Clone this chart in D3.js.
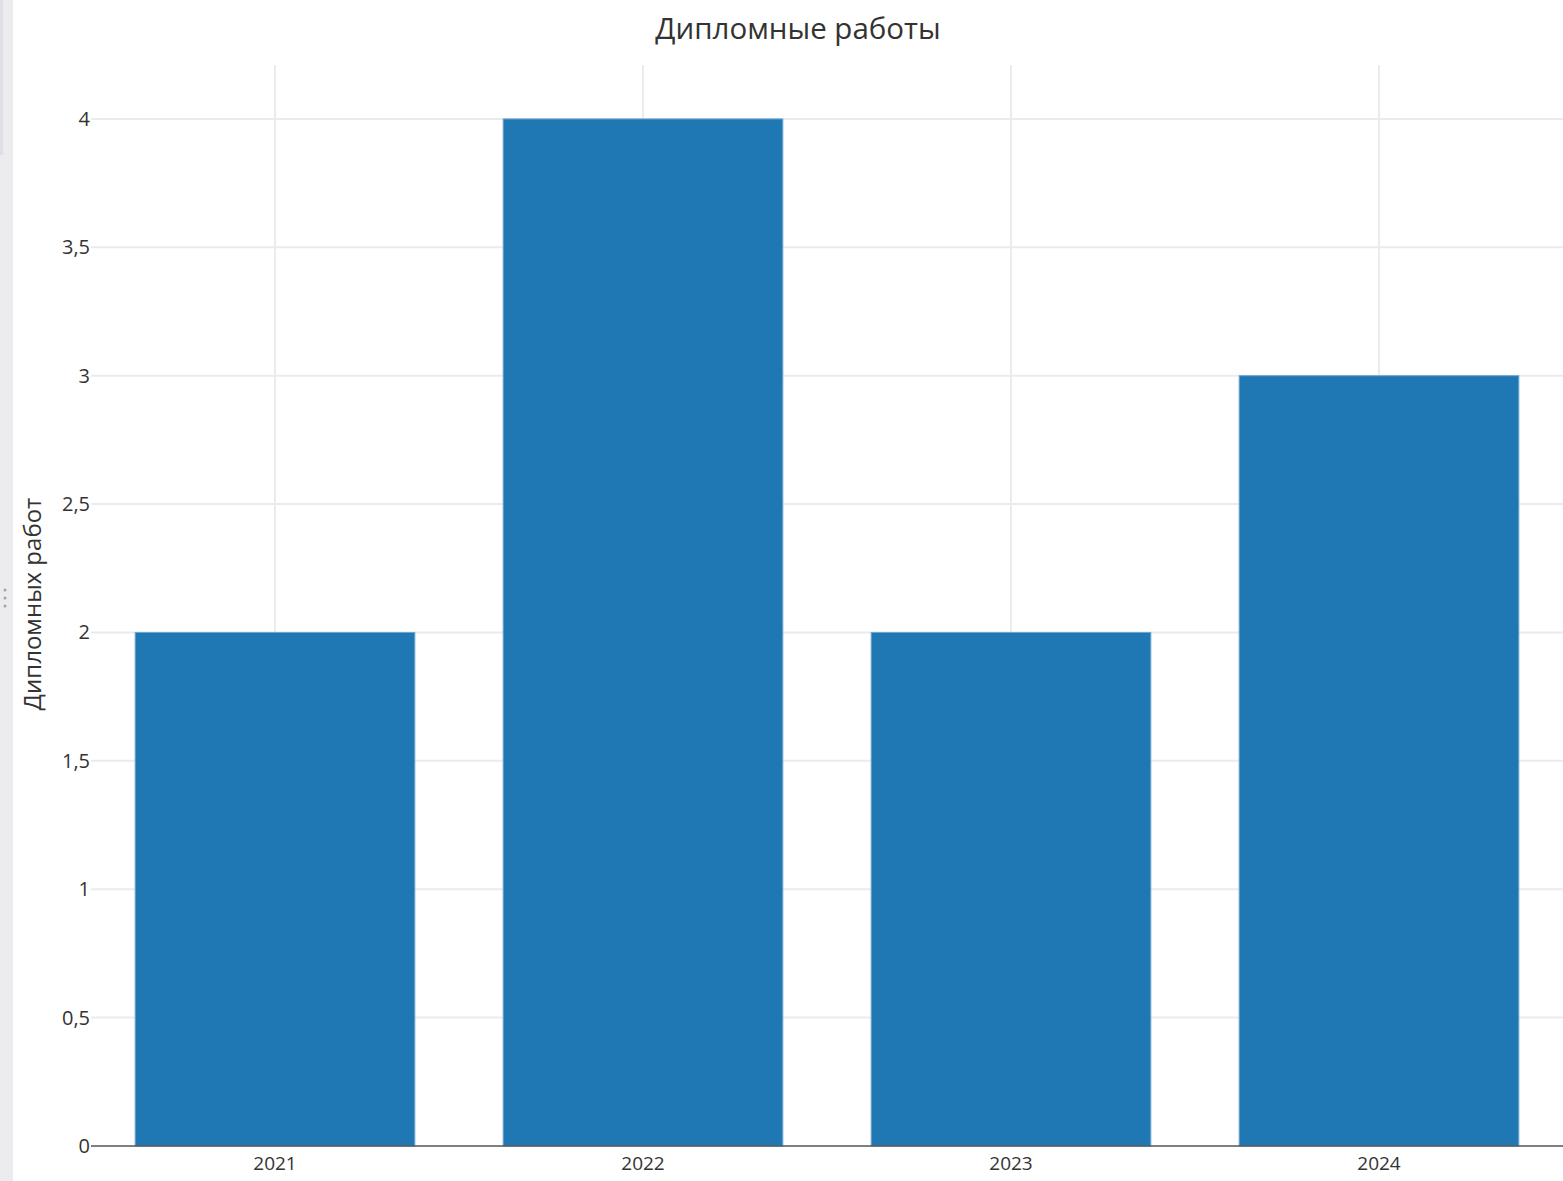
<!DOCTYPE html>
<html>
<head>
<meta charset="utf-8">
<script src="https://cdn.jsdelivr.net/npm/d3@7"></script>
<style>
  body { margin: 0; background: #fff; }
  svg text { font-family: "Open Sans", "Noto Sans", sans-serif; }
</style>
</head>
<body>
<div id="container"></div>
<script>
// chart data
const years = ['2021', '2022', '2023', '2024'];
const theses = [2, 4, 2, 3];
const yTicks = [0, 0.5, 1, 1.5, 2, 2.5, 3, 3.5, 4];

const WIDTH = 1563;
const HEIGHT = 1181;
const margin = { top: 65, right: 0, bottom: 35, left: 91 };

const svg = d3.select('#container').append('svg')
  .attr('width', WIDTH)
  .attr('height', HEIGHT);

// grey sidebar strip on the left edge of the screenshot
svg.append('rect').attr('x', 0).attr('y', 0).attr('width', 13).attr('height', HEIGHT).attr('fill', '#ececee');
svg.append('rect').attr('x', 0).attr('y', 0).attr('width', 3).attr('height', 155).attr('fill', '#dde0e7');
[590, 598, 606].forEach(y => {
  svg.append('circle').attr('cx', 5).attr('cy', y).attr('r', 1.5).attr('fill', '#a0a4ac');
});

const x = d3.scaleBand()
  .domain(years)
  .range([margin.left, WIDTH - margin.right])
  .paddingInner(0.24)
  .paddingOuter(0.12);

const y = d3.scaleLinear()
  .domain([0, 4.21])
  .range([HEIGHT - margin.bottom, margin.top]);

// grid
svg.append('g')
  .selectAll('line.hgrid')
  .data(yTicks.filter(d => d > 0))
  .join('line')
  .attr('x1', margin.left)
  .attr('x2', WIDTH - margin.right)
  .attr('y1', d => y(d))
  .attr('y2', d => y(d))
  .style('stroke', '#ebebeb')
  .style('stroke-width', 2);

svg.append('g')
  .selectAll('line.vgrid')
  .data(years)
  .join('line')
  .attr('x1', d => x(d) + x.bandwidth() / 2)
  .attr('x2', d => x(d) + x.bandwidth() / 2)
  .attr('y1', margin.top)
  .attr('y2', y(0))
  .style('stroke', '#ebebeb')
  .style('stroke-width', 2);

// bars
svg.append('g')
  .selectAll('rect')
  .data(theses)
  .join('rect')
  .attr('x', (d, i) => x(years[i]))
  .attr('y', d => y(d))
  .attr('width', x.bandwidth())
  .attr('height', d => y(0) - y(d))
  .style('fill', '#1f77b4')
  .style('stroke', '#6fa6d0')
  .style('stroke-width', 1);

// zero line
svg.append('line')
  .attr('x1', margin.left)
  .attr('x2', WIDTH - margin.right)
  .attr('y1', y(0))
  .attr('y2', y(0))
  .style('stroke', '#555')
  .style('stroke-width', 1.5);

// y tick labels
const yFmt = d => String(d).replace('.', ',');
svg.append('g')
  .selectAll('text')
  .data(yTicks)
  .join('text')
  .attr('x', margin.left - 1)
  .attr('y', d => y(d))
  .attr('dy', '0.35em')
  .attr('text-anchor', 'end')
  .style('font-size', '20px')
  .style('fill', '#333')
  .text(yFmt);

// x tick labels
svg.append('g')
  .selectAll('text')
  .data(years)
  .join('text')
  .attr('x', d => x(d) + x.bandwidth() / 2)
  .attr('y', y(0) + 24)
  .attr('text-anchor', 'middle')
  .style('font-size', '19px')
  .style('fill', '#333')
  .text(d => d);

// title
svg.append('text')
  .attr('x', 798)
  .attr('y', 39)
  .attr('text-anchor', 'middle')
  .style('font-size', '29.5px')
  .style('fill', '#333')
  .text('Дипломные работы');

// y axis title
svg.append('text')
  .attr('transform', `translate(41, ${604}) rotate(-90)`)
  .attr('text-anchor', 'middle')
  .style('font-size', '24px')
  .style('fill', '#333')
  .text('Дипломных работ');
</script>
</body>
</html>
